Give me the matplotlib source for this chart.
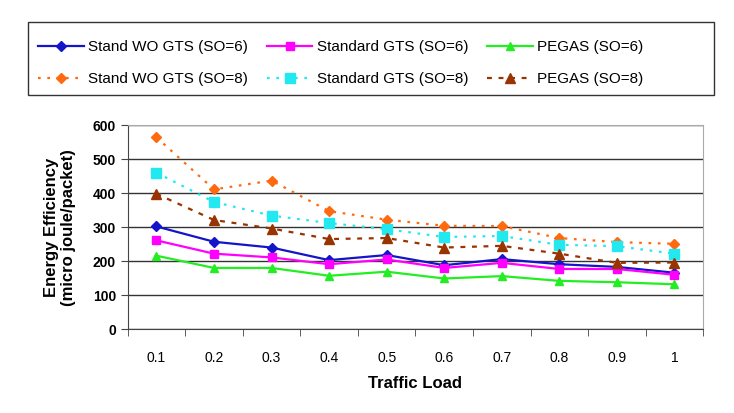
import numpy as np, matplotlib
matplotlib.use("Agg")
import matplotlib.pyplot as plt
from matplotlib.ticker import FixedLocator
from matplotlib.patches import Rectangle

plt.rcParams['font.family'] = ['Liberation Sans', 'DejaVu Sans']

loads = ["0.1", "0.2", "0.3", "0.4", "0.5", "0.6", "0.7", "0.8", "0.9", "1"]
stand_wo_6 = [302, 257, 240, 203, 218, 188, 206, 191, 183, 166]
standard_6 = [261, 222, 211, 191, 205, 180, 195, 177, 177, 160]
pegas_6 = [216, 180, 180, 157, 169, 149, 156, 142, 138, 132]
stand_wo_8 = [564, 411, 437, 347, 322, 304, 303, 268, 256, 251]
standard_8 = [460, 374, 334, 312, 294, 271, 274, 248, 244, 222]
pegas_8 = [398, 321, 296, 265, 268, 240, 245, 222, 195, 196]

x = np.arange(len(loads))
W, H = 734, 413
fig = plt.figure(figsize=(W / 100, H / 100), dpi=100)
ax = fig.add_axes([0.174, 0.203, 0.784, 0.494])

h1, = ax.plot(x, stand_wo_6, color="#1414c8", marker="D", ms=5, lw=1.6, label="Stand WO GTS (SO=6)")
h2, = ax.plot(x, standard_6, color="#ff00ff", marker="s", ms=6, lw=1.6, label="Standard GTS (SO=6)")
h3, = ax.plot(x, pegas_6, color="#22ee22", marker="^", ms=6, lw=1.6, label="PEGAS (SO=6)")
h4, = ax.plot(x, stand_wo_8, color="#ff6a10", marker="D", ms=5, lw=1.6, ls=(0, (1.2, 3)), label="Stand WO GTS (SO=8)")
h5, = ax.plot(x, standard_8, color="#22e8f0", marker="s", ms=7, lw=1.6, ls=(0, (1.2, 3)), label="Standard GTS (SO=8)")
h6, = ax.plot(x, pegas_8, color="#993300", marker="^", ms=7, lw=1.6, ls=(0, (2.2, 3)), label="PEGAS (SO=8)")

ax.set_xlim(-0.5, len(loads) - 0.5)
ax.set_ylim(0, 600)
ax.set_yticks(range(0, 601, 100))
ax.set_xticks(x)
ax.set_xticklabels(loads, fontsize=10)
ax.xaxis.set_minor_locator(FixedLocator(np.arange(-0.5, len(loads), 1.0)))
ax.tick_params(axis="x", which="major", length=0, pad=16)
ax.tick_params(axis="x", which="minor", length=5, direction="out", color="#444444")
ax.tick_params(axis="y", length=5, direction="out", color="#444444", labelsize=10)
for t in ax.get_yticklabels():
    t.set_fontweight("bold")
ax.yaxis.grid(True, color="#333333", lw=1.0)
ax.set_axisbelow(True)
for s in ["top", "right"]:
    ax.spines[s].set_color("#aaaaaa")
for s in ["left", "bottom"]:
    ax.spines[s].set_color("#444444")

ax.set_xlabel("Traffic Load", fontsize=12, fontweight="bold", labelpad=8)
ax.set_ylabel("Energy Efficiency\n(micro joule/packet)", fontsize=12, fontweight="bold", labelpad=12)

fig.legend(handles=[h1, h4, h2, h5, h3, h6], ncol=3, loc="upper left",
           bbox_to_anchor=(38 / W, 1 - 40 / H), borderaxespad=0, borderpad=0,
           fontsize=11, frameon=False, handlelength=3.0, handletextpad=0.3,
           columnspacing=1.2, labelspacing=1.2)
fig.patches.append(Rectangle((28 / W, 1 - 95 / H), (714 - 28) / W, (95 - 22) / H,
                             transform=fig.transFigure, fill=False, ec="#333333", lw=1.0))

plt.savefig("out.png", dpi=100)
